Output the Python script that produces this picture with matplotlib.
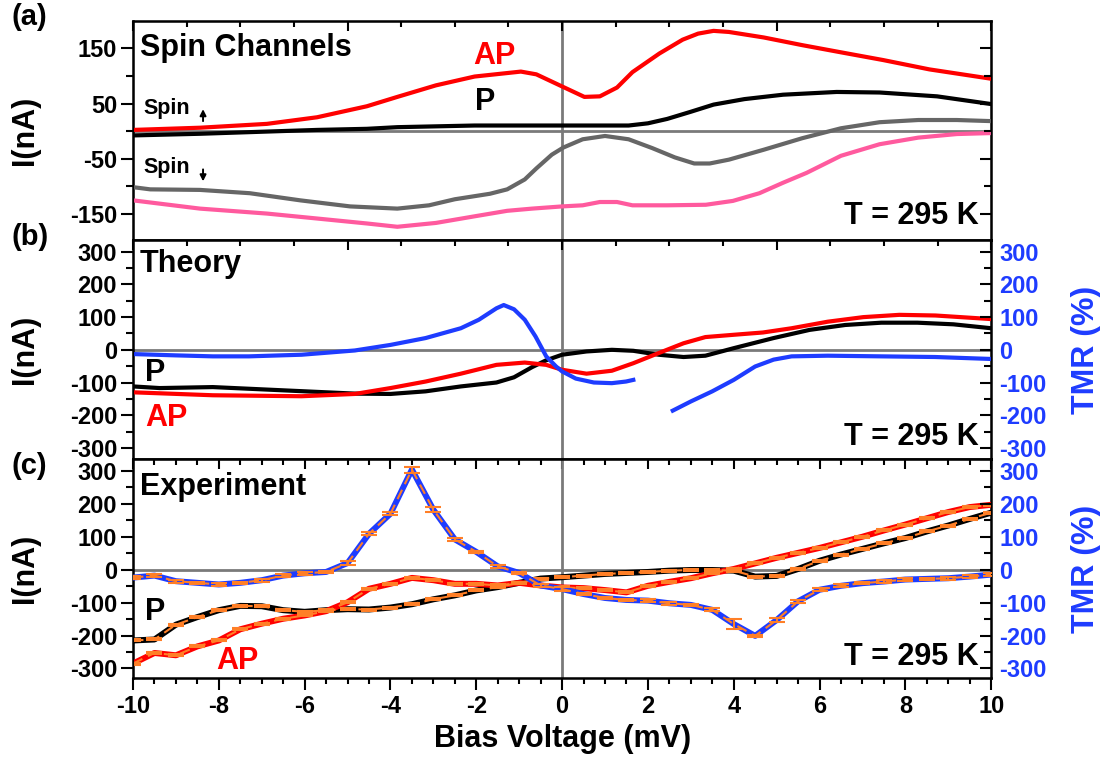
import numpy as np
import matplotlib
matplotlib.use("Agg")
import matplotlib.pyplot as plt
from matplotlib.ticker import MultipleLocator, FixedLocator

plt.rcParams['font.family'] = ['Liberation Sans', 'DejaVu Sans']
plt.rcParams['font.weight'] = 'bold'
plt.rcParams['axes.labelweight'] = 'bold'
plt.rcParams['axes.unicode_minus'] = False

RED = '#FF0000'
PINK = '#FF5A9E'
GRAY = '#666666'
BLUE = '#1E3CFF'
ORANGE = '#FF7F27'
ZERO = '#7a7a7a'

# ---- (a) spin channels ----
ap_up_x = [-10, -8.44, -6.88, -5.71, -4.55, -3.84, -2.94, -2.04, -0.96, -0.6, 0, 0.52, 0.88, 1.28,
           1.64, 2.27, 2.81, 3.17, 3.53, 3.89, 4.7, 5.6, 6.5, 7.48, 8.56, 10]
ap_up = [2, 6, 13, 25, 45, 62, 83, 99, 108, 103, 81, 62, 63, 79,
         107, 141, 166, 177, 182, 180, 170, 156, 143, 129, 112, 95]

p_up_x = [-10, -8.44, -6.88, -5.71, -4.55, -3.84, -2.04, 0, 1.55, 2.0, 2.45, 3.0, 3.53, 4.25,
          5.15, 6.4, 7.4, 8.74, 10]
p_up = [-8, -5, -1, 2, 4, 7, 10, 10, 10, 14, 22, 35, 48, 58,
        66, 71, 70, 63, 49]

p_dn_x = [-10, -9.6, -8.44, -7.28, -6.1, -4.94, -3.84, -3.1, -2.5, -1.68, -1.28, -0.87, -0.6, -0.24,
          0.03, 0.48, 1.0, 1.55, 2.1, 2.63, 3.08, 3.44, 3.89, 4.7, 5.6, 6.5, 7.4, 8.3, 9.2, 10]
p_dn = [-102, -106, -107, -113, -126, -137, -141, -135, -124, -114, -106, -88, -68, -43,
        -30, -15, -9, -15, -31, -48, -59, -59, -52, -34, -13, 5, 16, 20, 20, 18]

ap_dn_x = [-10, -8.44, -6.88, -5.71, -4.55, -3.84, -2.94, -2.04, -1.28, -0.7, 0, 0.48, 0.88, 1.28,
           1.64, 2.45, 3.35, 3.98, 4.6, 5.15, 5.7, 6.5, 7.4, 8.3, 9.2, 10]
ap_dn = [-126, -141, -150, -159, -168, -174, -167, -155, -145, -141, -137, -135, -129, -129,
         -135, -135, -134, -127, -113, -94, -76, -45, -24, -12, -5.5, -3.7]

# ---- (b) theory ----
p_th_x = [-10, -9.38, -8.14, -6.49, -4.83, -4.0, -3.18, -2.36, -1.53, -1.12, -0.7, -0.37, 0, 0.57,
          1.16, 1.66, 2.25, 2.83, 3.34, 4.0, 4.93, 5.77, 6.6, 7.44, 8.28, 9.12, 10]
p_th = [-112, -117, -114, -124, -134, -135, -127, -112, -100, -84, -53, -32, -15, -5,
        0, -3, -15, -22, -18, 5, 36, 61, 76, 83, 83, 78, 66]

ap_th_x = [-10, -8.14, -6.07, -4.83, -4.0, -3.18, -2.36, -1.53, -0.87, -0.37, 0, 0.57, 1.16,
           1.66, 2.25, 2.83, 3.34, 4.0, 4.68, 5.35, 6.19, 7.02, 7.86, 8.7, 10]
ap_th = [-130, -139, -142, -135, -117, -97, -73, -46, -39, -46, -61, -73, -64,
         -41, -10, 20, 39, 46, 53, 66, 86, 100, 107, 105, 94]

tmr_th_x1 = [-10, -9, -8.14, -7.3, -6.07, -4.83, -4.0, -3.18, -2.36, -1.94, -1.53, -1.36, -1.12,
             -0.87, -0.62, -0.37, -0.14, 0, 0.32, 0.74, 1.16, 1.49, 1.66]
tmr_th1 = [-13, -17, -20, -20, -15, -2, 15, 36, 66, 92, 127, 137, 124,
           92, 41, -20, -51, -66, -88, -100, -102, -97, -92]
tmr_th_x2 = [2.58, 3.0, 3.5, 4.0, 4.5, 4.93, 5.35, 6.19, 7.44, 8.7, 10]
tmr_th2 = [-186, -158, -127, -92, -51, -30, -20, -18, -20, -22, -28]

# ---- (c) experiment ----
v_exp = np.arange(-10, 10.01, 0.5)
tmr_exp = [-24, -18, -35, -40, -45, -40, -32, -18, -11, -7, 20, 109, 170, 304, 182, 92, 54, 10, -10, -48,
           -59, -74, -86, -92, -94, -102, -107, -122, -165, -201, -153, -96, -61, -49, -41, -36, -30,
           -28, -26, -21, -15]
tmr_err = [4, 4, 4, 4, 4, 4, 4, 4, 4, 4, 5, 5, 4, 9, 7, 5, 4, 4, 4, 4,
           5, 4, 4, 4, 4, 4, 4, 5, 15, 4, 5, 4, 4, 4, 4, 4, 4, 4, 4, 4, 4]
p_exp = [-215, -212, -167, -144, -123, -110, -111, -123, -128, -123, -120, -121, -115, -105, -90, -78,
         -63, -53, -40, -27, -23, -18, -13, -10, -7, -3, -1, -1, -3, -21, -19, 2, 27, 46, 63, 80, 96,
         116, 134, 154, 173]
ap_exp = [-285, -253, -260, -233, -215, -181, -164, -149, -139, -126, -99, -58, -43, -25, -32, -43,
          -43, -48, -40, -48, -54, -56, -62, -69, -49, -37, -26, -11, 2, 19, 36, 51, 66, 83, 100, 119,
          137, 156, 175, 190, 197]
iv_err = [3] * 41

fig = plt.figure(figsize=(11.03, 7.65), dpi=100)
L, W, H = 0.1206, 0.778, 0.2863
ax_a = fig.add_axes([L, 0.6863, W, H])
ax_b = fig.add_axes([L, 0.4, W, H])
ax_c = fig.add_axes([L, 0.1137, W, H])


def base(ax, ylim):
    ax.set_xlim(-10, 10)
    ax.set_ylim(*ylim)
    for s in ax.spines.values():
        s.set_linewidth(1.8)
    ax.axhline(0, color=ZERO, lw=2, zorder=1)
    ax.axvline(0, color=ZERO, lw=2, zorder=1)
    ax.tick_params(axis='y', which='major', direction='out', length=8.5, width=1.5,
                   labelsize=17, pad=3)
    ax.tick_params(axis='y', which='minor', direction='out', length=5, width=1.5)
    ax.set_ylabel('I(nA)', fontsize=22)
    ax.yaxis.set_label_coords(-0.108, 0.5)


def right_twin(ax, labels):
    ax2 = ax.twinx()
    ax2.set_ylim(ax.get_ylim())
    ax2.tick_params(axis='y', which='major', direction='in', length=8, width=1.5,
                    labelsize=17, pad=6, labelcolor=BLUE, labelright=labels)
    ax2.tick_params(axis='y', which='minor', direction='in', length=5, width=1.5)
    return ax2


# panel (a)
base(ax_a, (-198, 200))
ax_a.yaxis.set_major_locator(FixedLocator([-150, -50, 50, 150]))
ax_a.yaxis.set_minor_locator(FixedLocator([-100, 0, 100]))
ax_a.xaxis.set_ticks_position('top')
ax_a.xaxis.set_major_locator(MultipleLocator(5))
ax_a.xaxis.set_minor_locator(MultipleLocator(1.25))
ax_a.tick_params(axis='x', which='major', direction='in', length=7.5, width=1.5, labeltop=False)
ax_a.tick_params(axis='x', which='minor', direction='in', length=4, width=1.5)
ax_a2 = right_twin(ax_a, False)
ax_a2.yaxis.set_major_locator(FixedLocator([-150, -50, 50, 150]))
ax_a2.yaxis.set_minor_locator(FixedLocator([-100, 0, 100]))

ax_a.plot(p_dn_x, p_dn, color=GRAY, lw=3, zorder=3)
ax_a.plot(ap_dn_x, ap_dn, color=PINK, lw=3, zorder=3)
ax_a.plot(p_up_x, p_up, color='black', lw=3, zorder=3)
ax_a.plot(ap_up_x, ap_up, color=RED, lw=3, zorder=3)

ax_a.text(0.008, 0.877, 'Spin Channels', transform=ax_a.transAxes, fontsize=22, va='center')
ax_a.text(0.396, 0.84, 'AP', transform=ax_a.transAxes, fontsize=22, color=RED, va='center')
ax_a.text(0.398, 0.63, 'P', transform=ax_a.transAxes, fontsize=22, va='center')
ax_a.text(0.012, 0.60, 'Spin', transform=ax_a.transAxes, fontsize=15.5, va='center')
ax_a.text(0.012, 0.33, 'Spin', transform=ax_a.transAxes, fontsize=15.5, va='center')
ax_a.annotate('', xy=(0.0816, 0.61), xytext=(0.0816, 0.53), xycoords='axes fraction',
              arrowprops=dict(arrowstyle='-|>', color='black', lw=1.4, mutation_scale=9))
ax_a.annotate('', xy=(0.0816, 0.255), xytext=(0.0816, 0.335), xycoords='axes fraction',
              arrowprops=dict(arrowstyle='-|>', color='black', lw=1.4, mutation_scale=9))
ax_a.text(0.985, 0.11, 'T = 295 K', transform=ax_a.transAxes, fontsize=22, ha='right', va='center')

# panel (b)
base(ax_b, (-334, 336))
ax_b.yaxis.set_major_locator(MultipleLocator(100))
ax_b.yaxis.set_minor_locator(MultipleLocator(50))
ax_b.xaxis.set_ticks_position('top')
ax_b.xaxis.set_major_locator(MultipleLocator(5))
ax_b.xaxis.set_minor_locator(MultipleLocator(1.25))
ax_b.tick_params(axis='x', which='major', direction='in', length=7.5, width=1.5, labeltop=False)
ax_b.tick_params(axis='x', which='minor', direction='in', length=4, width=1.5)
ax_b2 = right_twin(ax_b, True)
ax_b2.yaxis.set_major_locator(MultipleLocator(100))
ax_b2.yaxis.set_minor_locator(MultipleLocator(50))
ax_b2.set_ylabel('TMR (%)', color=BLUE, fontsize=23)
ax_b2.yaxis.set_label_coords(1.093, 0.5)

ax_b.plot(p_th_x, p_th, color='black', lw=3, zorder=3)
ax_b.plot(ap_th_x, ap_th, color=RED, lw=3, zorder=3)
ax_b2.plot(tmr_th_x1, tmr_th1, color=BLUE, lw=3)
ax_b2.plot(tmr_th_x2, tmr_th2, color=BLUE, lw=3)

ax_b.text(0.008, 0.89, 'Theory', transform=ax_b.transAxes, fontsize=22, va='center')
ax_b.text(0.014, 0.393, 'P', transform=ax_b.transAxes, fontsize=22, va='center')
ax_b.text(0.014, 0.187, 'AP', transform=ax_b.transAxes, fontsize=22, color=RED, va='center')
ax_b.text(0.985, 0.10, 'T = 295 K', transform=ax_b.transAxes, fontsize=22, ha='right', va='center')

# panel (c)
base(ax_c, (-329, 336))
ax_c.yaxis.set_major_locator(MultipleLocator(100))
ax_c.yaxis.set_minor_locator(MultipleLocator(50))
ax_c.xaxis.set_major_locator(MultipleLocator(2))
ax_c.xaxis.set_minor_locator(MultipleLocator(0.5))
ax_c.tick_params(axis='x', which='major', direction='out', length=8.5, width=1.5,
                 labelsize=17, pad=4)
ax_c.tick_params(axis='x', which='minor', direction='out', length=4.5, width=1.5)
top = ax_c.secondary_xaxis('top')
top.xaxis.set_major_locator(MultipleLocator(2))
top.xaxis.set_minor_locator(MultipleLocator(0.5))
top.tick_params(axis='x', which='major', direction='in', length=7.5, width=1.5, labeltop=False)
top.tick_params(axis='x', which='minor', direction='in', length=4, width=1.5)
ax_c.set_xlabel('Bias Voltage (mV)', fontsize=22, labelpad=4)
ax_c2 = right_twin(ax_c, True)
ax_c2.yaxis.set_major_locator(MultipleLocator(100))
ax_c2.yaxis.set_minor_locator(MultipleLocator(50))
ax_c2.set_ylabel('TMR (%)', color=BLUE, fontsize=23)
ax_c2.yaxis.set_label_coords(1.093, 0.5)

for ax, y, err, col in [(ax_c, p_exp, iv_err, 'black'), (ax_c, ap_exp, iv_err, RED),
                        (ax_c2, tmr_exp, tmr_err, BLUE)]:
    ax.plot(v_exp, y, color=col, lw=4.3, zorder=3)
    ax.errorbar(v_exp, y, yerr=err, color=ORANGE, lw=1.5, dashes=(5, 3), capsize=6,
                capthick=1.5, elinewidth=1.5, zorder=4)

ax_c.text(0.008, 0.87, 'Experiment', transform=ax_c.transAxes, fontsize=22, va='center')
ax_c.text(0.014, 0.30, 'P', transform=ax_c.transAxes, fontsize=22, va='center')
ax_c.text(0.097, 0.078, 'AP', transform=ax_c.transAxes, fontsize=22, color=RED, va='center')
ax_c.text(0.985, 0.096, 'T = 295 K', transform=ax_c.transAxes, fontsize=22, ha='right', va='center')

fig.text(0.027, 0.978, '(a)', fontsize=21, ha='center', va='center')
fig.text(0.027, 0.69, '(b)', fontsize=21, ha='center', va='center')
fig.text(0.027, 0.391, '(c)', fontsize=21, ha='center', va='center')

fig.savefig('out.png', dpi=100)
